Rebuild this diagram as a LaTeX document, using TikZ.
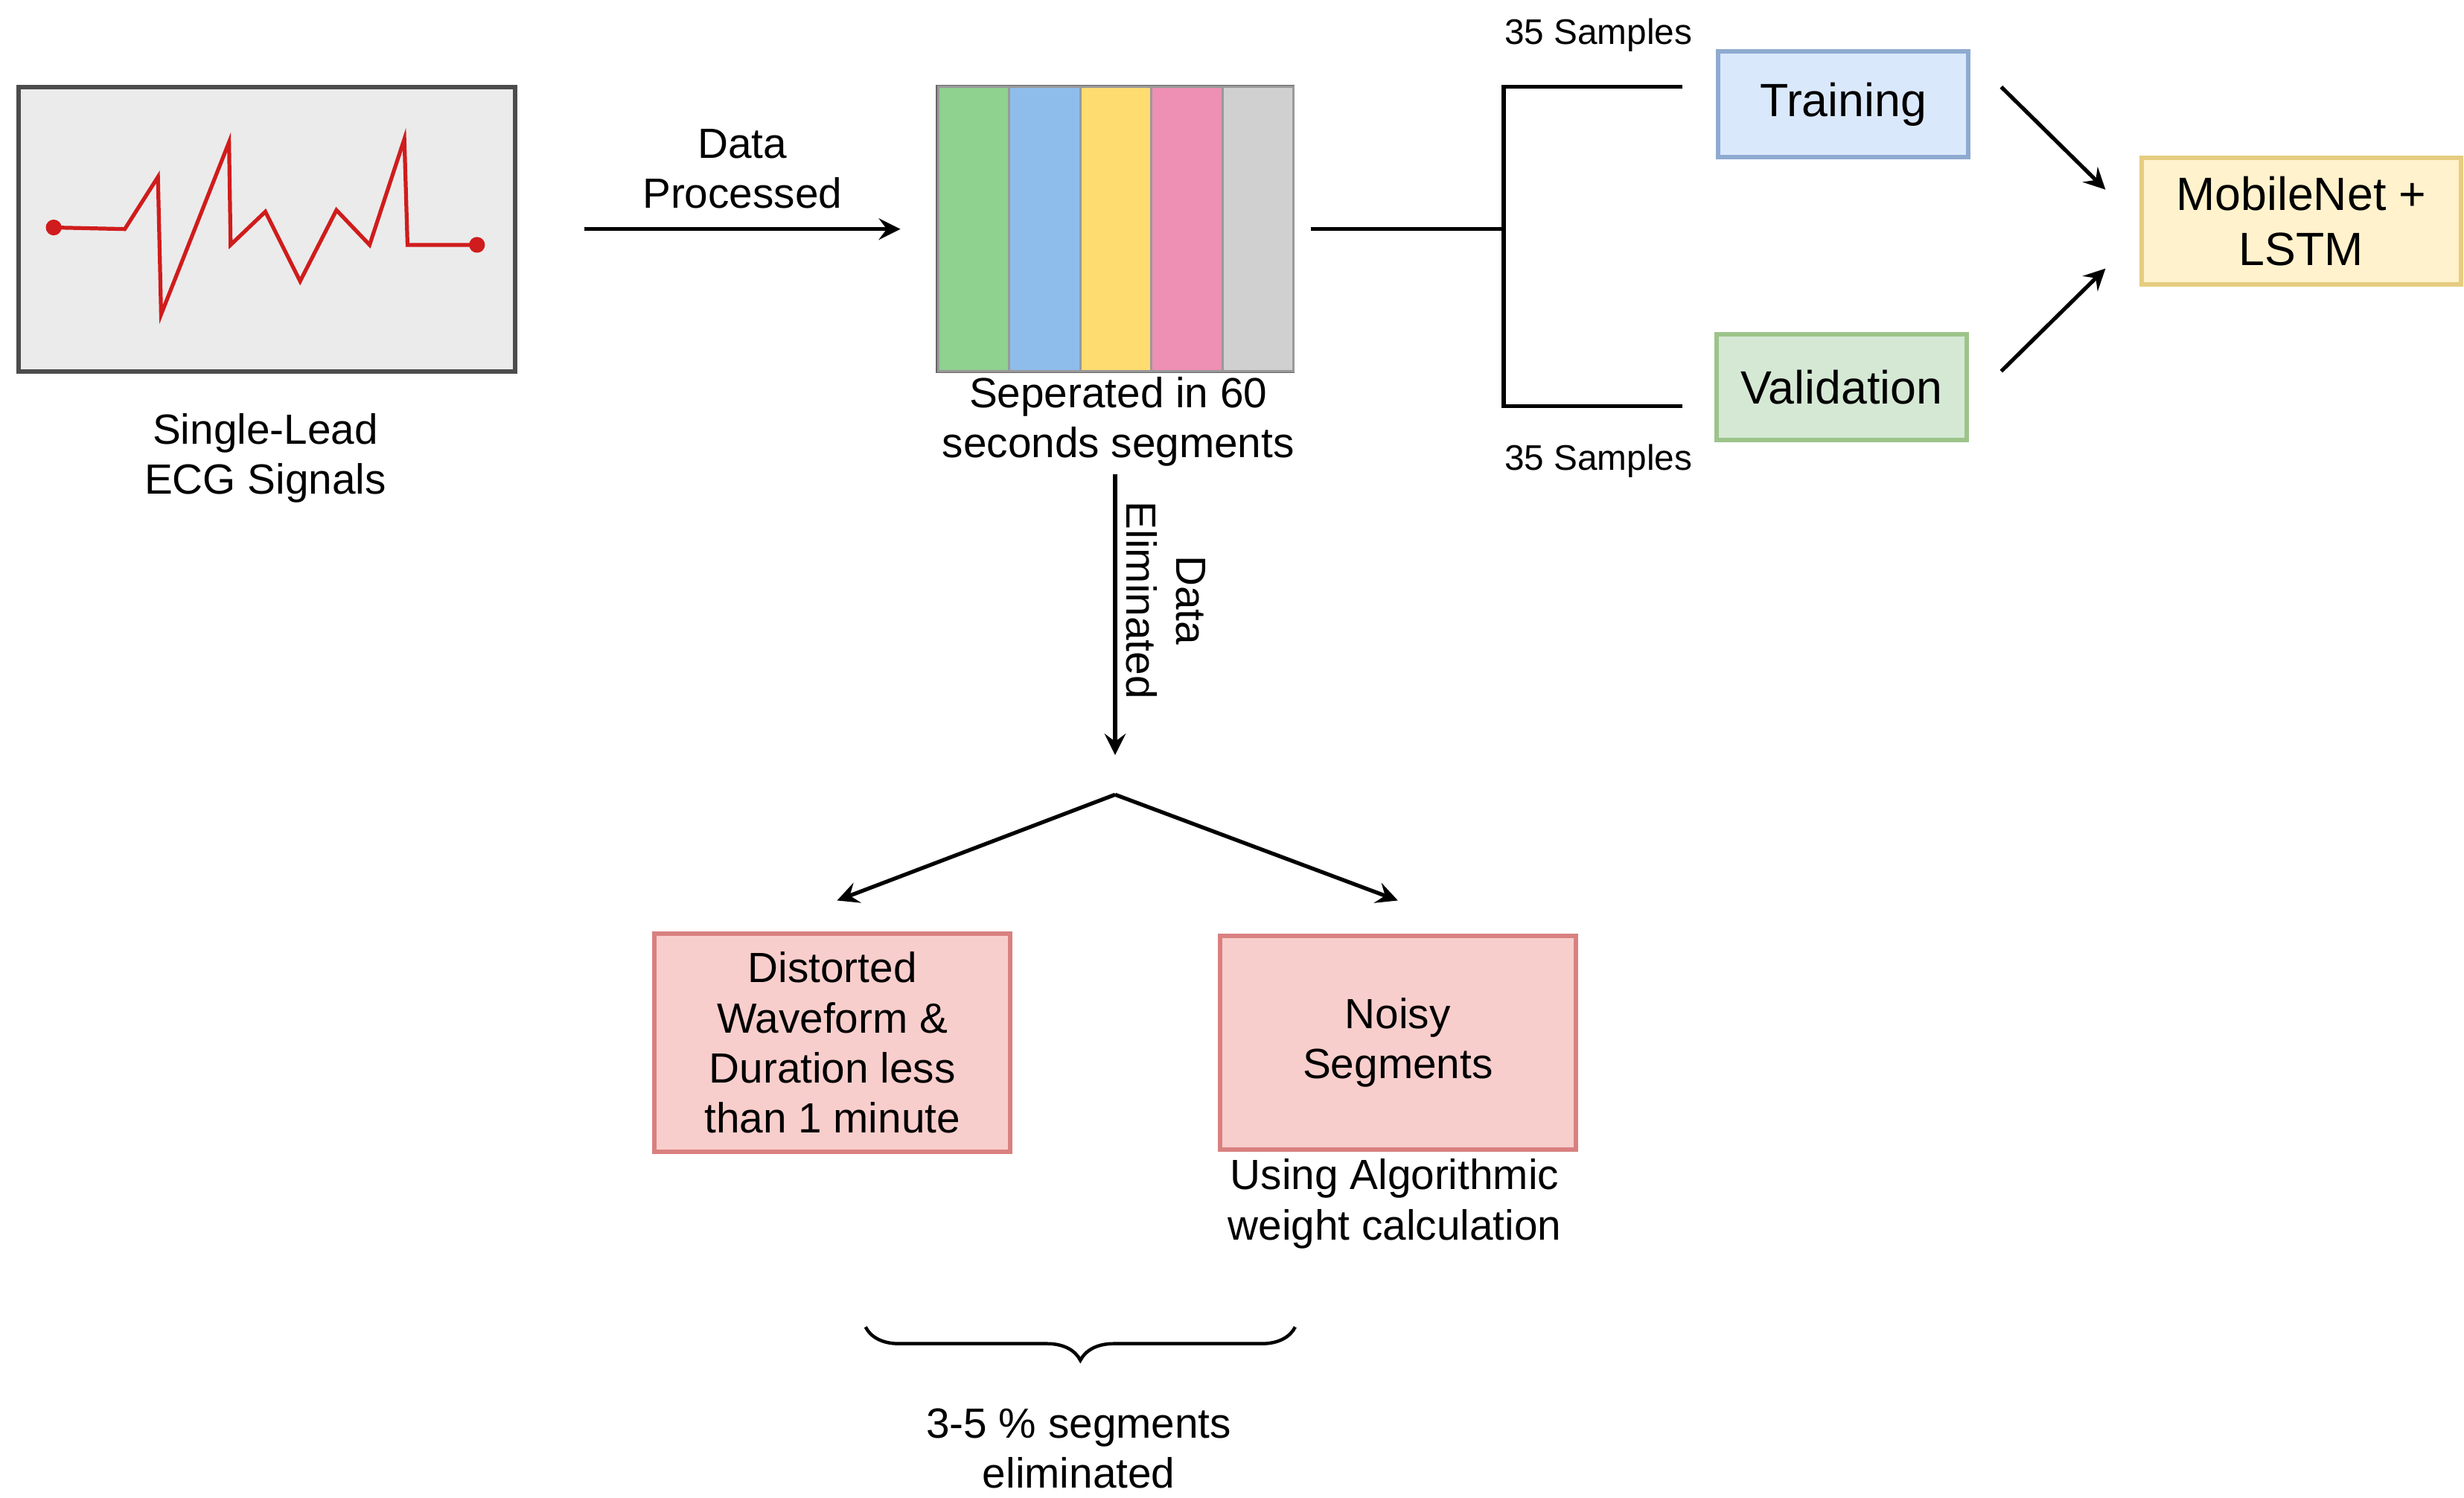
\documentclass[tikz,border=0pt]{standalone}
\usepackage{fontspec}
\setmainfont{Liberation Sans}
\usetikzlibrary{positioning,decorations.pathreplacing}

\definecolor{ecgred}{HTML}{D01C1C}
\definecolor{segA}{HTML}{8FD18F}
\definecolor{segB}{HTML}{8FBDEB}
\definecolor{segC}{HTML}{FFDC70}
\definecolor{segD}{HTML}{EE8FB4}
\definecolor{segE}{HTML}{D0D0D0}
\definecolor{trainfill}{HTML}{DAE8FC}
\definecolor{trainline}{HTML}{8EAAD0}
\definecolor{validfill}{HTML}{D5E8D4}
\definecolor{validline}{HTML}{9CC48A}
\definecolor{modelfill}{HTML}{FFF2CC}
\definecolor{modelline}{HTML}{E6CC80}
\definecolor{elimfill}{HTML}{F8CECC}
\definecolor{elimline}{HTML}{D98080}

\tikzset{
    lbl/.style={align=center, font=\fontsize{7.6}{9}\selectfont},
    smalllbl/.style={font=\fontsize{6.4}{8}\selectfont},
    box/.style={draw, line width=0.8pt, minimum width=1.58cm, minimum height=0.67cm, font=\fontsize{8.4}{10}\selectfont},
    pinkbox/.style={draw=elimline, fill=elimfill, line width=0.8pt, minimum width=2.25cm, minimum height=1.35cm, align=center, font=\fontsize{7.6}{9}\selectfont},
    arr/.style={-stealth, line width=0.7pt}
}

\begin{document}
\begin{tikzpicture}[x=0.01cm, y=-0.01cm]
    \useasboundingbox (0,0) rectangle (1560,948);

    % ECG input
    \node[draw=black!70, fill=black!8, line width=0.8pt, minimum width=3.14cm, minimum height=1.8cm] (ecg) at (169,145) {};
    \draw[ecgred, line width=0.7pt] (34,144) -- (79,145) -- (100,112) -- (102,199) -- (145,90) -- (146,155) -- (168,134) -- (190,178) -- (213,133) -- (234,155) -- (256,88) -- (258,155) -- (302,155);
    \fill[ecgred] (34,144) circle (5) (302,155) circle (5);
    \node[lbl] (ecglbl) at (168,290) {Single-Lead\\ECG Signals};

    % segments
    \node[draw=black!60, line width=0.6pt, minimum width=2.25cm, minimum height=1.8cm] (seg) at (706,145) {};
    \foreach \c [count=\i from 0] in {segA,segB,segC,segD,segE}
        \fill[\c, draw=black!40] (594+45*\i,55) rectangle (639+45*\i,235);
    \node[lbl] (seglbl) at (708,267) {Seperated in 60\\seconds segments};

    \coordinate (ecgout) at (370,145);
    \coordinate (segin) at (570,145);
    \draw[arr] (ecgout) -- (segin) node[midway, above, lbl] {Data\\Processed};

    % training / validation
    \node[box, fill=trainfill, draw=trainline] (train) at (1167,66) {Training};
    \node[box, fill=validfill, draw=validline] (valid) at (1166,245) {Validation};
    \node[box, fill=modelfill, draw=modelline, minimum width=2.02cm, minimum height=0.8cm, align=center] (model) at (1457,140) {MobileNet +\\LSTM};

    \coordinate (split) at (952,145);
    \draw[line width=0.7pt] (830,145) -- (split);
    \draw[line width=0.7pt] (1065,55) -| (split) |- (1065,257);
    \node[smalllbl] (ntrain) at (1012,22) {35 Samples};
    \node[smalllbl] (nvalid) at (1012,292) {35 Samples};

    \draw[arr] (1267,55) -- (1333,120);
    \draw[arr] (1267,235) -- (1333,170);

    % eliminated data
    \coordinate (down) at (706,478);
    \draw[arr] (706,300) -- (down);
    \node[lbl, rotate=-90] (elim) at (738,380) {Data\\Eliminated};

    \coordinate (fork) at (706,503);
    \draw[arr] (fork) -- (530,570);
    \draw[arr] (fork) -- (885,570);

    \node[pinkbox] (dist) at (527,660) {Distorted\\Waveform \&\\Duration less\\than 1 minute};
    \node[pinkbox] (noisy) at (885,660) {Noisy\\Segments};
    \node[lbl] (algo) at (883,762) {Using Algorithmic\\weight calculation};

    \draw[decorate, decoration={brace, amplitude=6pt, mirror}, line width=0.6pt] (548,840) -- (820,840);
    \node[lbl] (pct) at (683,917) {3-5 \% segments\\eliminated};
\end{tikzpicture}
\end{document}
